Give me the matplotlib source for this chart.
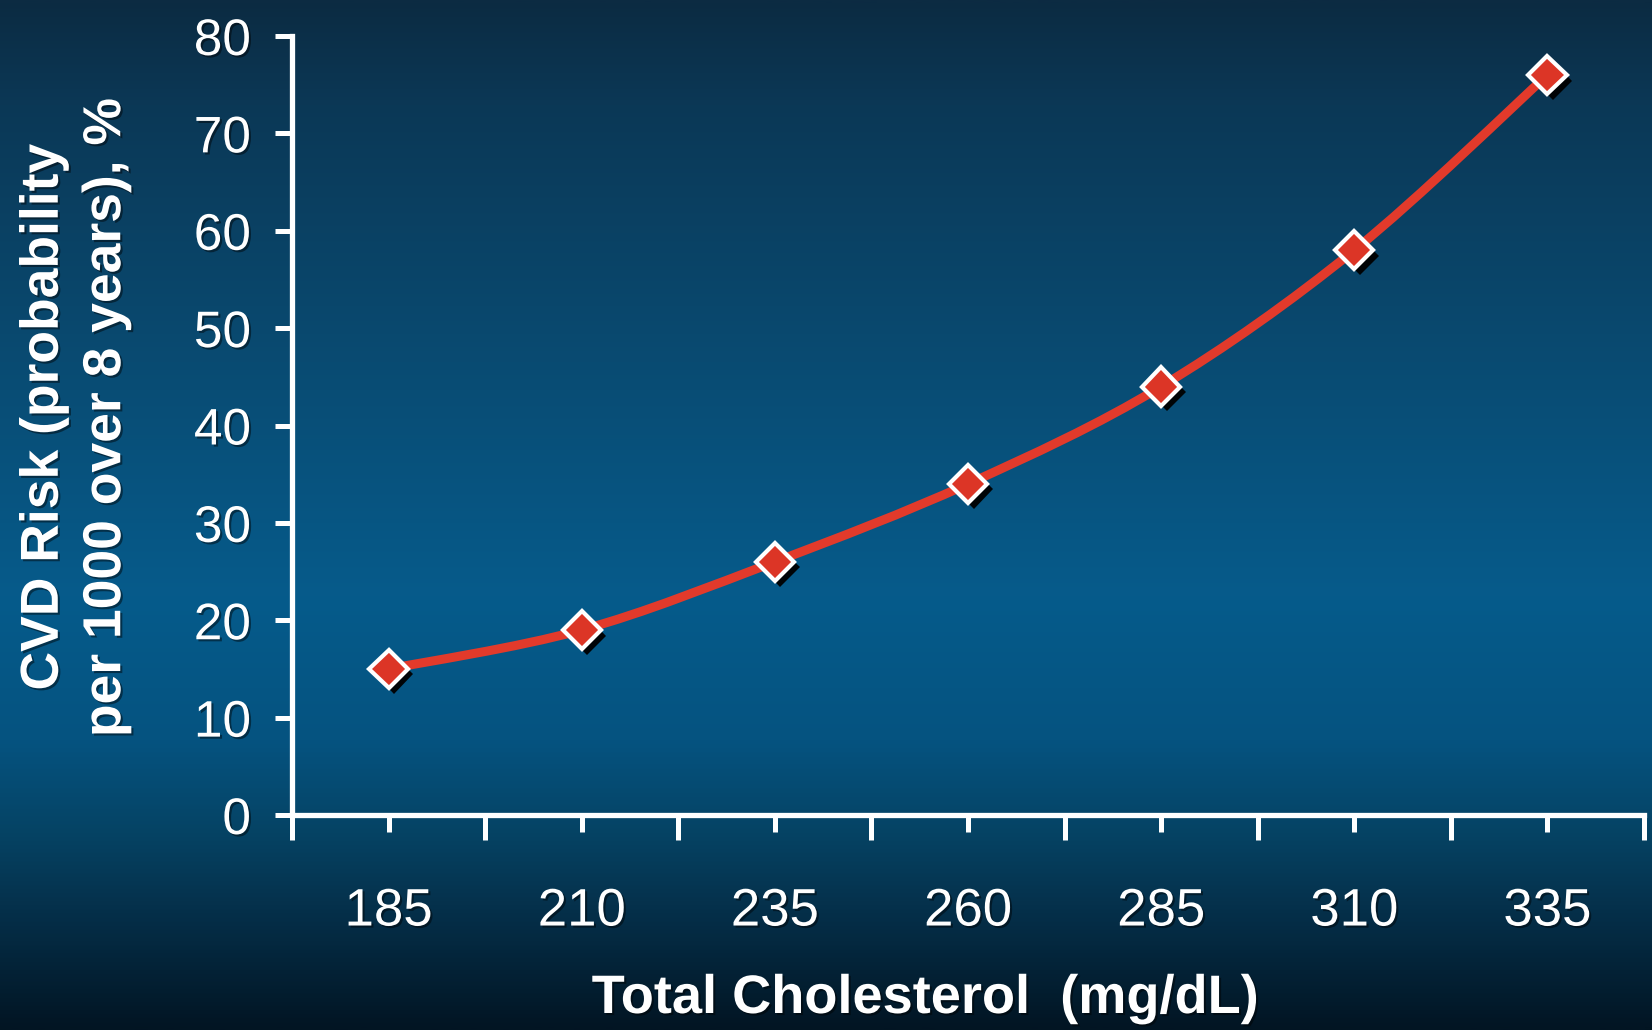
import numpy as np
import matplotlib
matplotlib.use("Agg")
import matplotlib.pyplot as plt
from matplotlib.path import Path
from matplotlib.patches import PathPatch
from matplotlib.colors import LinearSegmentedColormap
import matplotlib.patheffects as pe

# Data
cholesterol = ["185", "210", "235", "260", "285", "310", "335"]
cvd_risk = [15, 19, 26, 34, 44, 58, 76]
y_ticks = [0, 10, 20, 30, 40, 50, 60, 70, 80]

plt.rcParams["font.family"] = ["Liberation Sans", "DejaVu Sans"]

fig = plt.figure(figsize=(16.52, 10.30), dpi=100)

# Slide-style vertical gradient background
bg = fig.add_axes([0, 0, 1, 1], zorder=-10)
stops = [
    (0.00, "#0c2b42"),
    (0.10, "#0b3856"),
    (0.35, "#094b72"),
    (0.58, "#065b8b"),
    (0.72, "#055380"),
    (0.81, "#064364"),
    (0.88, "#05314c"),
    (1.00, "#021523"),
]
cmap = LinearSegmentedColormap.from_list("slide", stops)
grad = np.linspace(0, 1, 512).reshape(-1, 1)
bg.imshow(grad, aspect="auto", cmap=cmap, extent=[0, 1, 0, 1], origin="upper")
bg.set_axis_off()

ax = fig.add_axes([292 / 1652, 215 / 1030, (1644 - 292) / 1652, (815 - 36) / 1030])
ax.patch.set_alpha(0)

x = np.arange(len(cholesterol))
y = np.asarray(cvd_risk, dtype=float)

# Smooth curve through the points (Catmull-Rom as cubic Bezier segments)
pts = np.column_stack([x, y]).astype(float)
ext = np.vstack([pts[0], pts, pts[-1]])
verts = [tuple(pts[0])]
codes = [Path.MOVETO]
for i in range(len(pts) - 1):
    p0, p1, p2, p3 = ext[i], ext[i + 1], ext[i + 2], ext[i + 3]
    c1 = p1 + (p2 - p0) / 6.0
    c2 = p2 - (p3 - p1) / 6.0
    verts += [tuple(c1), tuple(c2), tuple(p2)]
    codes += [Path.CURVE4] * 3
curve = PathPatch(Path(verts, codes), facecolor="none", edgecolor="#e23a2b",
                  lw=6.5, capstyle="round", joinstyle="round", zorder=3)
ax.add_patch(curve)

ax.plot(x, y, linestyle="none", marker="D", markersize=19.5,
        markerfacecolor="#dc3526", markeredgecolor="white", markeredgewidth=3,
        zorder=4,
        path_effects=[pe.SimplePatchShadow(offset=(4, -4), shadow_rgbFace="black", alpha=0.95),
                      pe.Normal()])

ax.set_xlim(-0.5, len(cholesterol) - 0.5)
ax.set_ylim(0, 80)

for side in ("top", "right"):
    ax.spines[side].set_visible(False)
for side in ("left", "bottom"):
    ax.spines[side].set_color("white")
    ax.spines[side].set_linewidth(3.8)
    ax.spines[side].set_capstyle("projecting")

shadow = [pe.withSimplePatchShadow(offset=(1.5, -1.5), shadow_rgbFace="black", alpha=0.45)]

ax.set_yticks(y_ticks)
ax.set_yticklabels([str(v) for v in y_ticks])
ax.tick_params(axis="y", direction="out", length=12.5, width=3.6, color="white",
               labelcolor="white", labelsize=37, pad=17)

ax.set_xticks(x)
ax.set_xticklabels(cholesterol)
ax.set_xticks(np.arange(-0.5, len(cholesterol)), minor=True)
ax.tick_params(axis="x", which="major", direction="out", length=12.5, width=3.6,
               color="white", labelcolor="white", labelsize=38, pad=39)
ax.tick_params(axis="x", which="minor", direction="out", length=18, width=3.6,
               color="white")

for lab in ax.get_xticklabels() + ax.get_yticklabels():
    lab.set_path_effects(shadow)

fig.text(925 / 1652, 17 / 1030, "Total Cholesterol  (mg/dL)", ha="center",
         va="baseline", color="white", fontsize=39, fontweight="bold",
         path_effects=shadow)

fig.text(75 / 1652, (1030 - 417) / 1030,
         "CVD Risk (probability\nper 1000 over 8 years), %",
         rotation=90, ha="center", va="center", multialignment="center",
         color="white", fontsize=38.5, fontweight="bold", linespacing=1.32,
         path_effects=shadow)

fig.savefig("out.png", dpi=100)
